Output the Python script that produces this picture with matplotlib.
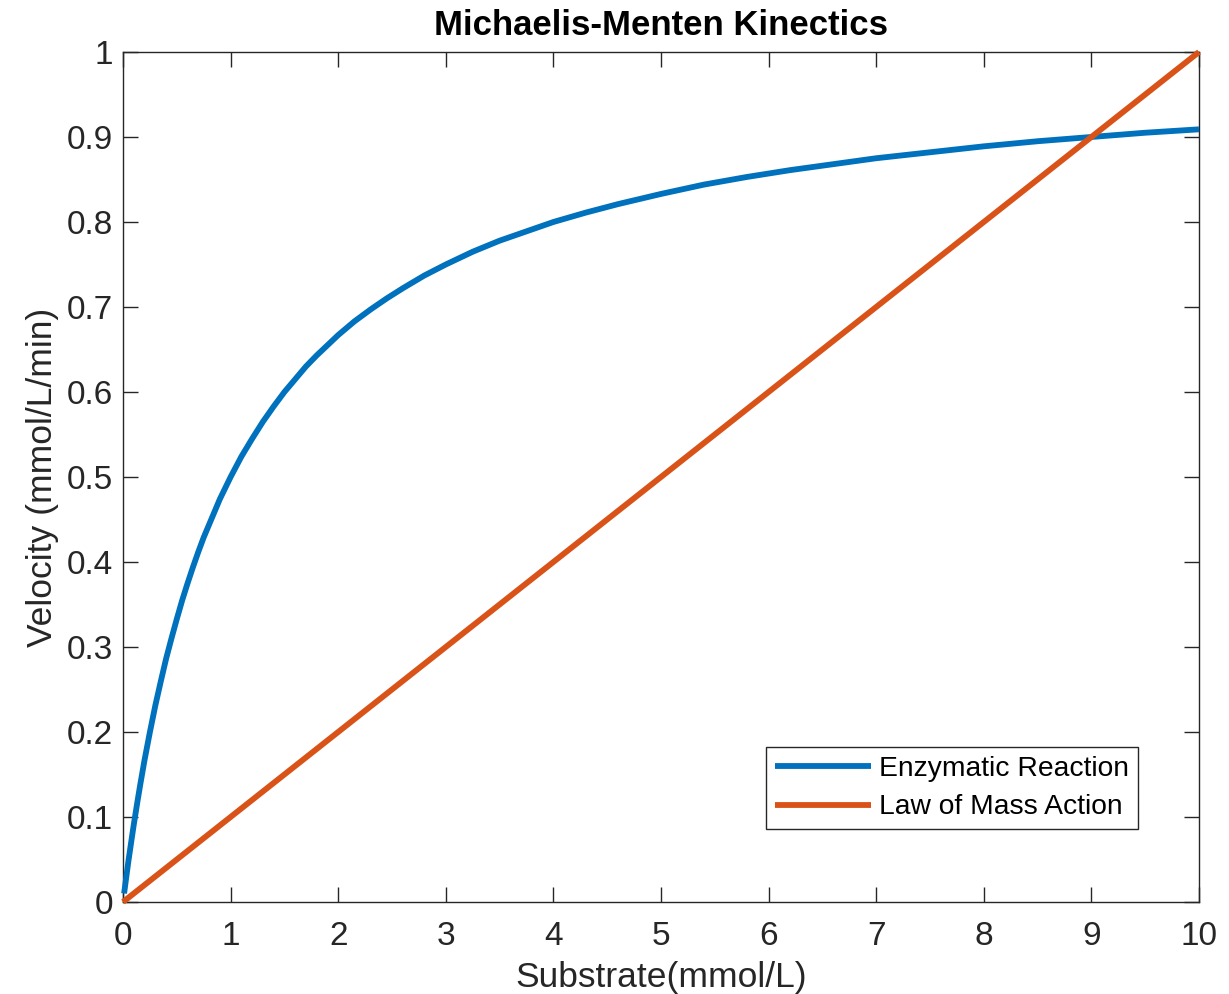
import matplotlib
matplotlib.use("Agg")
import matplotlib.pyplot as plt

plt.rcParams['font.family'] = ['Liberation Sans', 'DejaVu Sans']

# substrate concentration (mmol/L) and velocities
substrate = [0.01, 0.03, 0.05, 0.08, 0.1, 0.13, 0.16, 0.2, 0.25, 0.3, 0.35, 0.4,
             0.45, 0.5, 0.55, 0.6, 0.65, 0.7, 0.75, 0.8, 0.85, 0.9, 0.95, 1.0,
             1.1, 1.2, 1.3, 1.4, 1.5, 1.6, 1.7, 1.8, 1.9, 2.0, 2.15, 2.3, 2.45,
             2.6, 2.8, 3.0, 3.25, 3.5, 3.75, 4.0, 4.3, 4.6, 5.0, 5.4, 5.8, 6.2,
             6.6, 7.0, 7.5, 8.0, 8.5, 9.0, 9.5, 10.0]
enzymatic = [0.010, 0.029, 0.048, 0.074, 0.091, 0.115, 0.138, 0.167, 0.200,
             0.231, 0.259, 0.286, 0.310, 0.333, 0.355, 0.375, 0.394, 0.412,
             0.429, 0.444, 0.459, 0.474, 0.487, 0.500, 0.524, 0.545, 0.565,
             0.583, 0.600, 0.615, 0.630, 0.643, 0.655, 0.667, 0.683, 0.697,
             0.710, 0.722, 0.737, 0.750, 0.765, 0.778, 0.789, 0.800, 0.811,
             0.821, 0.833, 0.844, 0.853, 0.861, 0.868, 0.875, 0.882, 0.889,
             0.895, 0.900, 0.905, 0.909]
mass_action_x = [0, 10]
mass_action_y = [0, 1]

x_ticks = list(range(0, 11))
y_ticks = [0, 0.1, 0.2, 0.3, 0.4, 0.5, 0.6, 0.7, 0.8, 0.9, 1]
y_labels = ['0', '0.1', '0.2', '0.3', '0.4', '0.5', '0.6', '0.7', '0.8', '0.9', '1']

blue = '#0072BD'
orange = '#D95319'
axcol = '#262626'

fig = plt.figure(figsize=(12.29, 9.94), dpi=100)
ax = fig.add_axes([0.1001, 0.0926, 0.8755, 0.8551])

ax.plot(substrate, enzymatic, color=blue, lw=4.2, label='Enzymatic Reaction',
        solid_capstyle='butt', solid_joinstyle='round', clip_on=False, zorder=3)
ax.plot(mass_action_x, mass_action_y, color=orange, lw=4.2, label='Law of Mass Action',
        solid_capstyle='butt', clip_on=False, zorder=3)

ax.set_xlim(0, 10)
ax.set_ylim(0, 1)
ax.set_xticks(x_ticks)
ax.set_xticklabels([str(t) for t in x_ticks])
ax.set_yticks(y_ticks)
ax.set_yticklabels(y_labels)

ax.tick_params(direction='in', length=11, width=1.0, color=axcol, labelcolor=axcol,
               labelsize=24, top=True, right=True)
ax.tick_params(axis='x', pad=14)
ax.tick_params(axis='y', pad=7)
for sp in ax.spines.values():
    sp.set_color(axcol)
    sp.set_linewidth(1.0)

ax.set_title('Michaelis-Menten Kinectics', fontsize=25, fontweight='bold', pad=12)
ax.set_xlabel('Substrate(mmol/L)', fontsize=25.5, color=axcol, labelpad=6)
ax.set_ylabel('Velocity (mmol/L/min)', fontsize=25.5, color=axcol, labelpad=6)

leg = ax.legend(loc='lower right', bbox_to_anchor=(0.943, 0.086), borderaxespad=0,
                fontsize=20.3, fancybox=False, edgecolor=axcol, framealpha=1,
                handlelength=3.4, handletextpad=0.3, borderpad=0.3, labelspacing=0.45)
leg.get_frame().set_linewidth(1.0)

fig.savefig('out.png', dpi=100)
